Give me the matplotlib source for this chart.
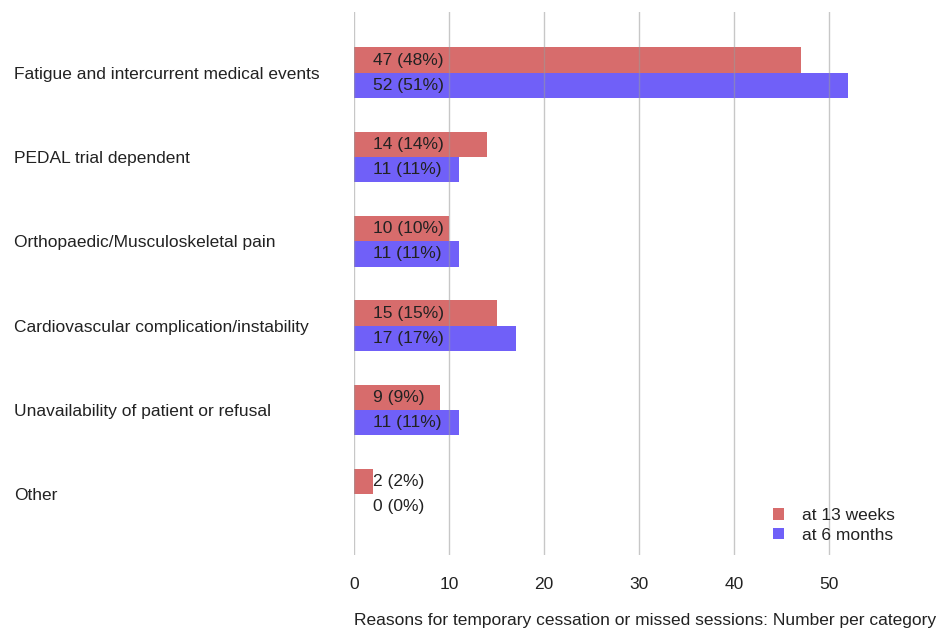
import matplotlib
matplotlib.use("Agg")
import matplotlib.pyplot as plt
import numpy as np

plt.rcParams["font.family"] = ["Liberation Sans", "DejaVu Sans"]

categories = [
    "Fatigue and intercurrent medical events",
    "PEDAL trial dependent",
    "Orthopaedic/Musculoskeletal pain",
    "Cardiovascular complication/instability",
    "Unavailability of patient or refusal",
    "Other",
]
weeks13 = [47, 14, 10, 15, 9, 2]
weeks13_pct = [48, 14, 10, 15, 9, 2]
months6 = [52, 11, 11, 17, 11, 0]
months6_pct = [51, 11, 11, 17, 11, 0]
x_ticks = [0, 10, 20, 30, 40, 50]

RED = "#d76c6c"
BLUE = "#7060f8"
TEXT = "#222222"
FS = 12.5

fig = plt.figure(figsize=(9.38, 6.29), dpi=100)
ax = fig.add_axes([354 / 938, 1 - 555 / 629, (886 - 354) / 938, (555 - 12) / 629])

y = np.arange(len(categories))
h = 0.30
ax.barh(y - h / 2, weeks13, height=h, color=RED, zorder=2, label="at 13 weeks")
ax.barh(y + h / 2, months6, height=h, color=BLUE, zorder=2, label="at 6 months")

for i in range(len(categories)):
    ax.text(2, y[i] - h / 2, f"{weeks13[i]} ({weeks13_pct[i]}%)", va="center", ha="left",
            fontsize=FS, color=TEXT, zorder=4)
    ax.text(2, y[i] + h / 2, f"{months6[i]} ({months6_pct[i]}%)", va="center", ha="left",
            fontsize=FS, color=TEXT, zorder=4)

ax.set_xlim(0, 56)
ax.set_ylim(len(categories) - 1 + 0.72, -0.72)
ax.set_xticks(x_ticks)
ax.set_yticks(y)
ax.set_yticklabels(categories)
for lbl in ax.get_yticklabels():
    lbl.set_horizontalalignment("left")
ax.tick_params(axis="y", length=0, pad=340 * 0.72, labelsize=FS, labelcolor=TEXT)
ax.tick_params(axis="x", length=0, pad=16, labelsize=FS, labelcolor=TEXT)

ax.grid(axis="x", color="#9a9a9a", alpha=0.55, linewidth=1, zorder=3)
ax.set_axisbelow(False)
for s in ax.spines.values():
    s.set_visible(False)

ax.set_xlabel("Reasons for temporary cessation or missed sessions: Number per category",
              fontsize=FS, color=TEXT, loc="left", labelpad=15)

ax.legend(loc="upper left", bbox_to_anchor=(0.758, 0.115), frameon=False, fontsize=FS,
          handlelength=0.65, handleheight=0.65, handletextpad=1.0, labelspacing=0.25,
          labelcolor=TEXT)

fig.savefig("out.png", dpi=100)
